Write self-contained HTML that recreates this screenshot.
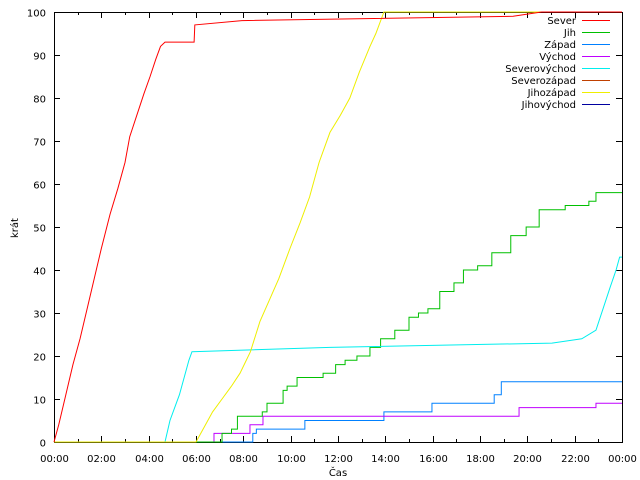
<!DOCTYPE html>
<html><head><meta charset="utf-8"><style>
body{margin:0;background:#fff}
svg{display:block;font-family:"DejaVu Sans","Liberation Sans",sans-serif;font-size:10px}
</style></head><body>
<svg id="c" width="640" height="480"></svg>
<script>
const seriesNames=["Sever","Jih","Západ","Východ","Severovýchod","Severozápad","Jihozápad","Jihovýchod"];
const seriesColors=["#ff0000","#00c000","#0080ff","#c000ff","#00eeee","#c04000","#eeee00","#0000a0"];
const xTickLabels=["00:00","02:00","04:00","06:00","08:00","10:00","12:00","14:00","16:00","18:00","20:00","22:00","00:00"];
const yTicks=[0,10,20,30,40,50,60,70,80,90,100];
const severT=[0,0.2,0.5,0.8,1.1,1.4,1.7,2.0,2.37,2.7,3.0,3.2,3.5,3.8,4.06,4.3,4.5,4.69,5.92,5.95,7.94,19.4,20.6];
const severV=[0,4,11,18,24,31,38,45,53,59,65,71,76,81,85,89,92,93,93,97,98,99,100];
const jihT=[7.0,7.1,7.5,7.75,8.8,9.0,9.68,9.85,10.27,11.37,11.9,12.3,12.8,13.35,13.8,14.4,15.0,15.4,15.8,16.3,16.9,17.3,17.9,18.5,19.3,19.95,20.5,21.6,22.6,22.9];
const jihV=[0,2,3,6,7,9,12,13,15,16,18,19,20,22,24,26,29,30,31,35,37,40,41,44,48,50,54,55,56,58];
const zapadT=[8.4,8.55,10.6,13.94,15.97,18.6,18.9];
const zapadV=[2,3,5,7,9,11,14];
const vychodT=[6.76,8.28,8.83,19.65,22.9];
const vychodV=[2,4,6,8,9];
const svT=[4.69,4.9,5.1,5.3,5.5,5.7,5.83,11.66,21.04,22.3,22.9,23.2,23.5,23.75,23.9];
const svV=[0,5,8,11,15,19,21,22,23,24,26,31,36,40,43];
const jzT=[6.0,6.3,6.7,7.1,7.5,7.86,8.3,8.7,9.1,9.5,9.97,10.4,10.8,11.2,11.66,12.1,12.5,12.9,13.35,13.6,13.94];
const jzV=[0,3,7,10,13,16,21,28,33,38,45,51,57,65,72,76,80,86,92,95,100];
const L=54,R=622,T=12,B=442;
const X=h=>L+h*(R-L)/24, Y=v=>B-v*(B-T)/100;
const svg=document.getElementById('c');const NS="http://www.w3.org/2000/svg";
function mk(tag,attrs,txt){const e=document.createElementNS(NS,tag);for(const k in attrs)e.setAttribute(k,attrs[k]);if(txt!==undefined)e.textContent=txt;svg.appendChild(e);return e;}
let e=mk('rect',{x:L+0.5,y:T+0.5,width:R-L,height:B-T,fill:'none',stroke:'#000','stroke-width':1});


yTicks.forEach(v=>{const y=Math.round(Y(v))+0.5;
 let t=mk('path',{d:`M${L} ${y}h6M${R} ${y}h-6`,stroke:'#000'});
 
 
 let l=mk('text',{x:46,y:y+4,'text-anchor':'end'},v);
 
 });
for(let h=0;h<=24;h++){const x=Math.round(X(h))+0.5;const len=h%2?3:6;
 let t=mk('path',{d:`M${x} ${B}v-${len}M${x} ${T}v${len}`,stroke:'#000'});
 
 
 if(h%2===0){let l=mk('text',{x:x,y:462,'text-anchor':'middle'},xTickLabels[h/2]);
 
 }}
let yt=mk('text',{x:18,y:228,'text-anchor':'middle',transform:'rotate(-90 18 228)'},'krát');


let xt=mk('text',{x:338,y:476,'text-anchor':'middle'},'Čas');


function step(ts,vs,col,name){let d=`M${X(0)} ${Y(0)}H${X(ts[0])}V${Y(vs[0])}`;
 for(let i=1;i<ts.length;i++)d+=`H${X(ts[i])}V${Y(vs[i])}`;d+=`H${R}`;
 let p=mk('path',{d:d,fill:'none',stroke:col,'stroke-width':1});
 
 }
function lin(ts,vs,col,name){let d=`M${X(0)} ${Y(0)}L${X(ts[0])} ${Y(vs[0])}`;
 for(let i=1;i<ts.length;i++){
  const flat=(i+1<ts.length&&vs[i+1]===vs[i])||vs[i]===vs[i-1];
  d+=`L${X(ts[i])} ${Y(vs[i])}`;}
 d+=`H${R}`;
 let p=mk('path',{d:d,fill:'none',stroke:col,'stroke-width':1});
 
 }
step(zapadT,zapadV,seriesColors[2],'series-zapad');
step(vychodT,vychodV,seriesColors[3],'series-vychod');
step(jihT,jihV,seriesColors[1],'series-jih');
lin(svT,svV,seriesColors[4],'series-severovychod');
lin(jzT,jzV,seriesColors[6],'series-jihozapad');
lin(severT,severV,seriesColors[0],'series-sever');
seriesNames.forEach((n,i)=>{const y=20+i*12;
 let l=mk('text',{x:576,y:y+4,'text-anchor':'end'},n);
 
 
 let s=mk('path',{d:`M582 ${y+0.5}H610`,stroke:seriesColors[i]});
 
 });
</script>
</body></html>
